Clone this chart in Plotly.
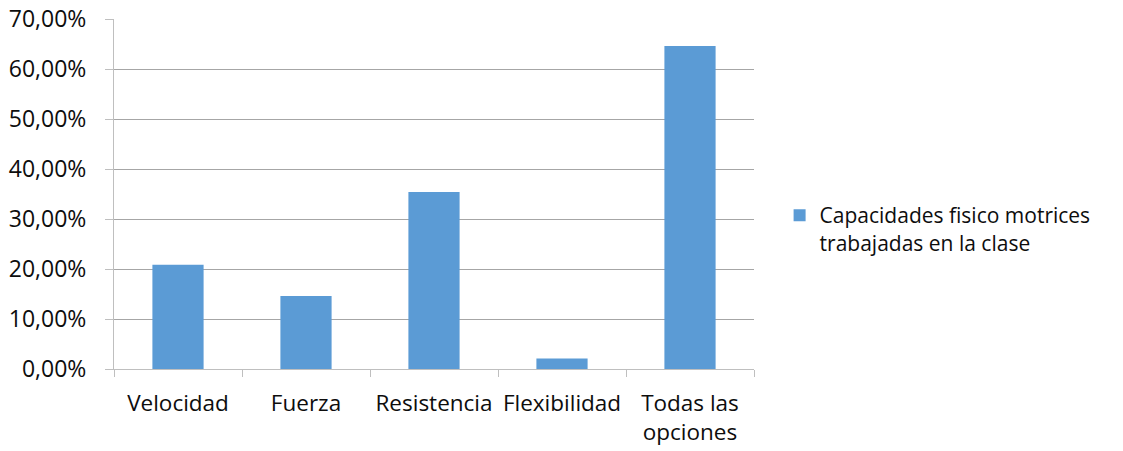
import plotly.graph_objects as go

categories = ["Velocidad", "Fuerza", "Resistencia", "Flexibilidad", "Todas las<br>opciones"]
values = [20.83, 14.58, 35.42, 2.08, 64.58]
series_name = "Capacidades fisico motrices<br>trabajadas en la clase"

FONT = "'Open Sans', Lato, sans-serif"
TEXT = "#0d0d0d"
GRID = "#a6a6a6"
AXIS = "#bfbfbf"

fig = go.Figure(
    go.Bar(
        x=categories,
        y=values,
        name=series_name,
        marker=dict(color="#5b9bd5", line=dict(width=0)),
        width=0.4,
        showlegend=True,
    )
)

fig.update_layout(
    width=1123,
    height=451,
    margin=dict(l=114, r=369, t=19, b=82),
    paper_bgcolor="white",
    plot_bgcolor="white",
    separators=",.",
    font=dict(family=FONT, size=21, color=TEXT),
    legend=dict(
        x=1.04,
        xanchor="left",
        y=0.40,
        yanchor="middle",
        valign="top",
        font=dict(family=FONT, size=21, color=TEXT),
        itemwidth=30,
        tracegroupgap=0,
    ),
    xaxis=dict(
        type="category",
        automargin=False,
        showline=True,
        linecolor=AXIS,
        linewidth=1,
        ticks="outside",
        tickson="boundaries",
        ticklen=7,
        tickcolor=AXIS,
        showgrid=False,
        tickangle=0,
        tickfont=dict(family=FONT, size=22.5, color=TEXT),
        ticklabelstandoff=14,
    ),
    yaxis=dict(
        range=[0, 70],
        dtick=10,
        tickformat=".2f",
        ticksuffix="%",
        automargin=False,
        showline=True,
        linecolor=AXIS,
        linewidth=1,
        ticks="outside",
        ticklen=8,
        tickcolor=AXIS,
        showgrid=True,
        gridcolor=GRID,
        gridwidth=1,
        zeroline=False,
        tickfont=dict(family=FONT, size=23, color=TEXT),
        ticklabelstandoff=14,
    ),
)

fig.write_html("out.html")
